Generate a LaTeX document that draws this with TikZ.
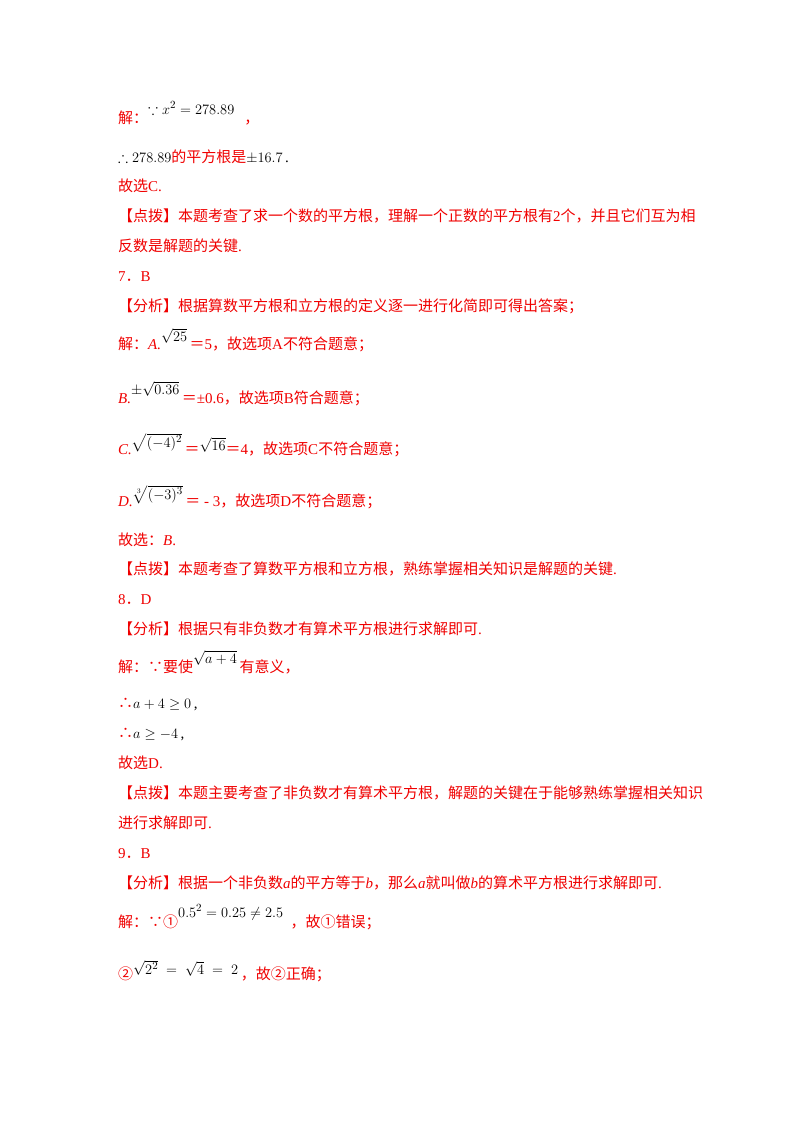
\documentclass[tikz,border=0pt]{standalone}
\usepackage{fontspec}
\usepackage{amssymb}
\setmainfont{Liberation Serif}
\newfontfamily\cjk{Noto Sans CJK SC}
\definecolor{tred}{RGB}{240,0,0}
\newcommand{\zh}[1]{{\cjk #1}}
\newcommand{\up}[2]{\raisebox{#1pt}{\color{black}$#2$}}
\begin{document}
\begin{tikzpicture}[x=1pt,y=-1pt,
  ln/.style={anchor=base west,inner sep=0pt,text=tred,font=\fontsize{15}{18}\selectfont}]
\useasboundingbox (0,0) rectangle (800,1132);
\fill[white] (0,0) rectangle (800,1132);
\node[ln] (l1) at (118,123) {\zh{解：}\up{9}{\because x^2=278.89}\,\,\,\,\zh{，}};
\node[ln] (l2) at (118,162) {\color{black}$\therefore 278.89$\color{tred}\zh{的平方根是}\color{black}$\pm16.7$\,.};
\node[ln] (l3) at (118,191) {\zh{故选}C.};
\node[ln] (l4) at (118,221) {\zh{【点拨】本题考查了求一个数的平方根，理解一个正数的平方根有}2\zh{个，并且它们互为相}};
\node[ln] (l5) at (118,251) {\zh{反数是解题的关键}.};
\node[ln] (l6) at (118,281) {7\zh{．}B};
\node[ln] (l7) at (118,311) {\zh{【分析】根据算数平方根和立方根的定义逐一进行化简即可得出答案；}};
\node[ln] (l8) at (118,349) {\zh{解：}\textit{A.}\up{8}{\sqrt{25}}\,\zh{＝}5\zh{，故选项}A\zh{不符合题意；}};
\node[ln] (l9) at (118,403) {\textit{B.}\up{9}{\pm\sqrt{0.36}}\,\zh{＝}±0.6\zh{，故选项}B\zh{符合题意；}};
\node[ln] (l10) at (118,454) {\textit{C.}\up{7}{\sqrt{(-4)^2}}\,\zh{＝}\up{4}{\sqrt{16}}\zh{＝}4\zh{，故选项}C\zh{不符合题意；}};
\node[ln] (l11) at (118,506) {\textit{D.}\up{7}{\sqrt[3]{(-3)^3}}\,\zh{＝} - 3\zh{，故选项}D\zh{不符合题意；}};
\node[ln] (l12) at (118,545) {\zh{故选：}\textit{B}.};
\node[ln] (l13) at (118,574) {\zh{【点拨】本题考查了算数平方根和立方根，熟练掌握相关知识是解题的关键}.};
\node[ln] (l14) at (118,604) {8\zh{．}D};
\node[ln] (l15) at (118,634) {\zh{【分析】根据只有非负数才有算术平方根进行求解即可}.};
\node[ln] (l16) at (118,672) {\zh{解：∵要使}\up{9}{\sqrt{a+4}}\,\zh{有意义，}};
\node[ln] (l17) at (118,708) {\zh{∴}\color{black}$a+4\geq0$\,,};
\node[ln] (l18) at (118,738) {\zh{∴}\color{black}$a\geq-4$\,,};
\node[ln] (l19) at (118,768) {\zh{故选}D.};
\node[ln] (l20) at (118,798) {\zh{【点拨】本题主要考查了非负数才有算术平方根，解题的关键在于能够熟练掌握相关知识}};
\node[ln] (l21) at (118,828) {\zh{进行求解即可}.};
\node[ln] (l22) at (118,858) {9\zh{．}B};
\node[ln] (l23) at (118,888) {\zh{【分析】根据一个非负数}\textit{a}\zh{的平方等于}\textit{b}\zh{，那么}\textit{a}\zh{就叫做}\textit{b}\zh{的算术平方根进行求解即可}.};
\node[ln] (l24) at (118,927) {\zh{解：∵①}\up{10}{0.5^2=0.25\neq2.5}\,\,\,\zh{，故①错误；}};
\node[ln] (l25) at (118,979) {\zh{②}\up{5}{\sqrt{2^2}\;=\;\sqrt{4}\;=\;2}\,\zh{，故②正确；}};
\end{tikzpicture}
\end{document}
